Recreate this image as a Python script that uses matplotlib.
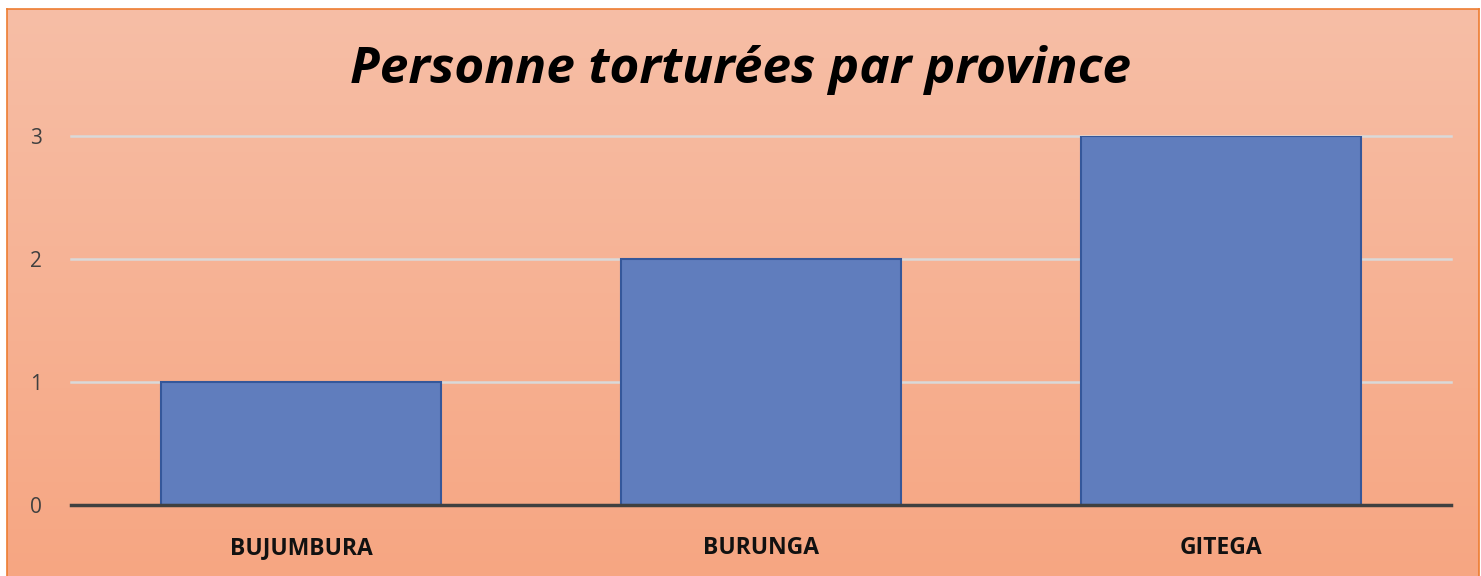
import matplotlib
matplotlib.use("Agg")
import matplotlib.pyplot as plt
import numpy as np

# ── 数据 ──────────────────────────────────────────────
provinces = ["Bujumbura", "Burunga", "Gitega"]
torturees = [1, 2, 3]
yticks = [0, 1, 2, 3]

# ── 颜色 ──────────────────────────────────────────────
BAR = '#607DBD'
BAR_EDGE = '#35579A'
GRID = '#D9D9D9'
AXIS = '#404040'
TOP_BG = np.array([247, 190, 166]) / 255
BOT_BG = np.array([246, 166, 130]) / 255

W, H = 1481, 576
fig = plt.figure(figsize=(W / 100, H / 100), dpi=100, facecolor='white')

# 背景渐变（带橙色边框）
bg = fig.add_axes([7 / W, -2 / H, (W - 9) / W, (H - 7) / H])
grad = np.linspace(0, 1, 256)[:, None, None]
img = TOP_BG * (1 - grad) + BOT_BG * grad
bg.imshow(img, aspect='auto', extent=[0, 1, 0, 1])
bg.set_xlim(0, 1)
bg.set_ylim(0, 1)
bg.set_xticks([])
bg.set_yticks([])
for sp in bg.spines.values():
    sp.set_color('#ED7D31')
    sp.set_linewidth(1.2)

# 主图
ax = fig.add_axes([71 / W, 71 / H, 1380 / W, 369 / H])
ax.patch.set_alpha(0)
x = np.arange(len(provinces))
ax.bar(x, torturees, width=0.61, color=BAR, edgecolor=BAR_EDGE,
       linewidth=1.5, zorder=3)
ax.set_xlim(-0.5, len(provinces) - 0.5)
ax.set_ylim(0, 3)
ax.set_yticks(yticks)
for t in yticks[1:]:
    ax.axhline(t, color=GRID, lw=1.8, zorder=1, clip_on=False)
ax.axhline(0, color=AXIS, lw=2.5, zorder=4, clip_on=False)
for sp in ax.spines.values():
    sp.set_visible(False)
ax.tick_params(axis='both', length=0)
ax.tick_params(axis='y', labelsize=15, labelcolor=AXIS, pad=21)
ax.set_xticks(x)
ax.set_xticklabels([p.upper() for p in provinces], fontsize=16.5,
                   fontweight='bold', color='#111111', family='Open Sans')
ax.tick_params(axis='x', pad=22)
for lab in ax.get_yticklabels():
    lab.set_family('Open Sans')

fig.text(0.5, 1 - 70 / H, 'Personne torturées par province',
         ha='center', va='center', fontsize=37, fontweight='bold',
         fontstyle='italic', family='Open Sans', color='black')

fig.savefig('out.png', dpi=100, facecolor=fig.get_facecolor())
